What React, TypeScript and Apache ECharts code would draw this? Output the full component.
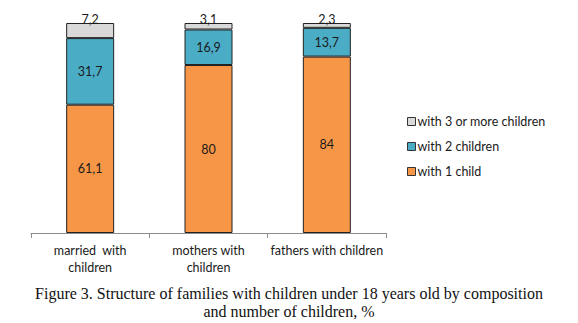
import React, { useEffect, useRef } from "react";
import * as echarts from "echarts";

const categories = ["married  with\nchildren", "mothers with\nchildren", "fathers with children"];
const oneChild = [61.1, 80, 84];
const twoChildren = [31.7, 16.9, 13.7];
const threeMore = [7.2, 3.1, 2.3];
const seriesNames = ["with 1 child", "with 2 children", "with 3 or more children"];
const caption = "Figure 3. Structure of families with children under 18 years old by composition\nand number of children, %";

const fmt = (v: number) => String(v).replace(".", ",");

export default function App() {
  const ref = useRef<HTMLDivElement>(null);
  useEffect(() => {
    document.body.style.margin = "0";
    if (!ref.current) return;
    const chart = echarts.init(ref.current, undefined, { renderer: "svg" });
    const labelBase = {
      show: true,
      fontFamily: "Lato",
      fontSize: 12.5,
      color: "#1a1a1a",
      formatter: (p: any) => fmt(p.value),
    };
    const mk = (name: string, data: number[], color: string, pos: any, extra: any = {}) => ({
      name,
      type: "bar",
      stack: "total",
      barWidth: 48,
      data,
      itemStyle: { color, borderColor: "#222", borderWidth: 1 },
      label: { ...labelBase, position: pos, ...extra },
    });
    chart.setOption({
      animation: false,
      textStyle: { fontFamily: "Lato" },
      title: {
        text: caption,
        left: "center",
        top: 279,
        textStyle: {
          fontFamily: "Liberation Serif",
          fontWeight: "normal",
          fontSize: 16,
          lineHeight: 18,
          color: "#111",
        },
      },
      legend: {
        orient: "vertical",
        left: 402,
        top: 110,
        itemWidth: 8,
        itemHeight: 8,
        itemGap: 12,
        icon: "rect",
        data: [seriesNames[2], seriesNames[1], seriesNames[0]],
        textStyle: { fontFamily: "Lato", fontSize: 12.5, color: "#1a1a1a", padding: [0, 0, 0, -3] },
        itemStyle: { borderColor: "#333", borderWidth: 1 },
      },
      grid: { left: 31, right: 192, top: 23, bottom: 90, containLabel: false },
      xAxis: {
        type: "category",
        data: categories,
        axisLine: { lineStyle: { color: "#8c8c8c" } },
        axisTick: { show: true, length: 5, lineStyle: { color: "#8c8c8c" } },
        axisLabel: {
          fontFamily: "Lato",
          fontSize: 12.5,
          color: "#1a1a1a",
          lineHeight: 17,
          margin: 9,
          interval: 0,
        },
      },
      yAxis: { type: "value", min: 0, max: 100, show: false },
      series: [
        mk(seriesNames[0], oneChild, "#f79646", "inside"),
        mk(seriesNames[1], twoChildren, "#4bacc6", "inside"),
        mk(seriesNames[2], threeMore, "#d9d9d9", "top", { distance: -3 }),
      ],
    });
    return () => chart.dispose();
  }, []);
  return <div ref={ref} style={{ width: 578, height: 323 }} />;
}
